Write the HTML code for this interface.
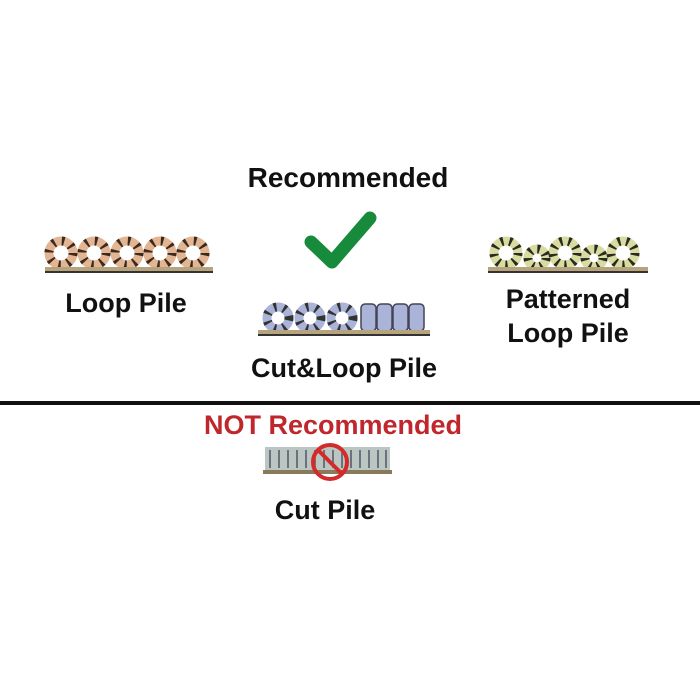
<!DOCTYPE html>
<html><head><style>
html,body{margin:0;padding:0;background:#fff;}
svg{display:block;}
text{font-family:"Liberation Sans",Arial,sans-serif;font-weight:bold;}
</style></head><body>
<svg width="700" height="700" viewBox="0 0 700 700" xmlns="http://www.w3.org/2000/svg">
<rect width="700" height="700" fill="#fff"/>
<text x="348" y="187" font-size="28" text-anchor="middle" fill="#111">Recommended</text>
<path d="M311 242 L332 262 L370 218" fill="none" stroke="#178a3c" stroke-width="13" stroke-linecap="round" stroke-linejoin="round"/>
<g fill="none">
<g stroke="#e3b592" stroke-width="9">
<circle cx="61" cy="253" r="12"/><circle cx="94" cy="253" r="12"/><circle cx="127" cy="253" r="12"/><circle cx="160" cy="253" r="12"/><circle cx="193" cy="253" r="12"/>
</g>
<g stroke="#3a2a20" stroke-width="9" stroke-dasharray="2.5 7">
<circle cx="61" cy="253" r="12"/><circle cx="94" cy="253" r="12"/><circle cx="127" cy="253" r="12"/><circle cx="160" cy="253" r="12"/><circle cx="193" cy="253" r="12"/>
</g>
</g>
<rect x="45" y="267" width="168" height="5" fill="#b8a47c"/><rect x="45" y="271" width="168" height="2" fill="#333"/>
<text x="126" y="312" font-size="27" text-anchor="middle" fill="#111">Loop Pile</text>
<g fill="none">
<g stroke="#aab3d8" stroke-width="9">
<circle cx="278" cy="318" r="11"/><circle cx="310" cy="318" r="11"/><circle cx="342" cy="318" r="11"/>
</g>
<g stroke="#333" stroke-width="9" stroke-dasharray="2.5 7">
<circle cx="278" cy="318" r="11"/><circle cx="310" cy="318" r="11"/><circle cx="342" cy="318" r="11"/>
</g>
</g>
<g fill="#aab3d8" stroke="#445" stroke-width="1.5">
<rect x="361" y="304" width="15" height="27" rx="4"/><rect x="377" y="304" width="15" height="27" rx="4"/><rect x="393" y="304" width="15" height="27" rx="4"/><rect x="409" y="304" width="15" height="27" rx="4"/>
</g>
<rect x="258" y="330" width="172" height="5" fill="#b8a47c"/><rect x="258" y="334" width="172" height="2" fill="#333"/>
<text x="344" y="377" font-size="27" text-anchor="middle" fill="#111">Cut&amp;Loop Pile</text>
<g fill="none">
<g stroke="#d8dca0" stroke-width="9">
<circle cx="506" cy="253" r="12"/><circle cx="537" cy="258" r="9"/><circle cx="565" cy="253" r="12"/><circle cx="594" cy="258" r="9"/><circle cx="623" cy="253" r="12"/>
</g>
<g stroke="#2a2a20" stroke-width="9" stroke-dasharray="2.5 6">
<circle cx="506" cy="253" r="12"/><circle cx="537" cy="258" r="9"/><circle cx="565" cy="253" r="12"/><circle cx="594" cy="258" r="9"/><circle cx="623" cy="253" r="12"/>
</g>
</g>
<rect x="488" y="267" width="160" height="5" fill="#b8a47c"/><rect x="488" y="271" width="160" height="2" fill="#333"/>
<text x="568" y="308" font-size="27" text-anchor="middle" fill="#111">Patterned</text>
<text x="568" y="342" font-size="27" text-anchor="middle" fill="#111">Loop Pile</text>
<rect x="0" y="401" width="700" height="4" fill="#111"/>
<text x="333" y="434" font-size="27" text-anchor="middle" fill="#c0272d">NOT Recommended</text>
<rect x="265" y="447" width="125" height="24" fill="#b9c6c2"/>
<g stroke="#556" stroke-width="1.5" fill="none">
<path d="M270 450v18M279 450v18M288 450v18M297 450v18M306 450v18M315 450v18M324 450v18M333 450v18M342 450v18M351 450v18M360 450v18M369 450v18M378 450v18M386 450v18"/>
</g>
<rect x="263" y="470" width="129" height="4" fill="#8a7a5c"/>
<circle cx="330" cy="462" r="17" fill="none" stroke="#d42a2a" stroke-width="4"/>
<line x1="318" y1="450" x2="342" y2="474" stroke="#d42a2a" stroke-width="4"/>
<text x="325" y="519" font-size="27" text-anchor="middle" fill="#111">Cut Pile</text>
</svg>
</body></html>
